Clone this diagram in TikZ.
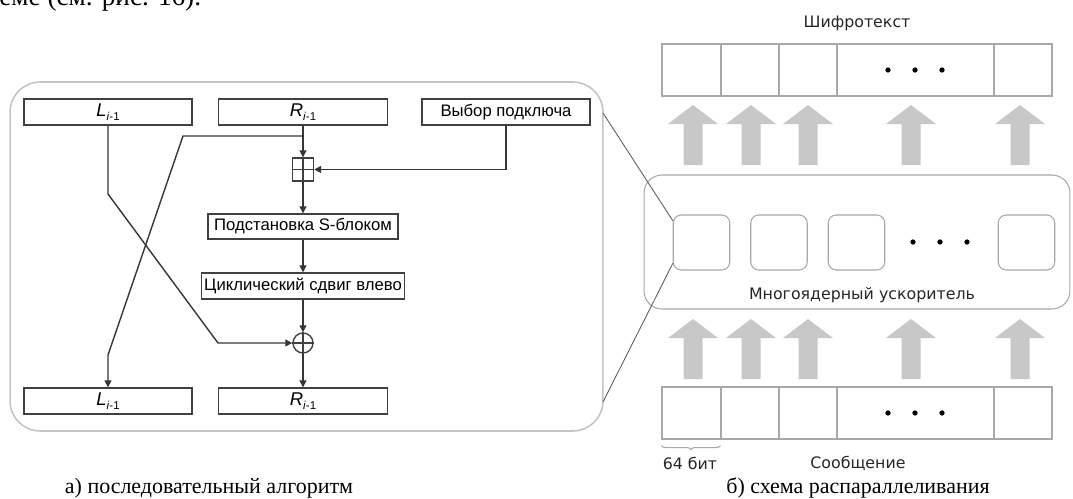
\documentclass[tikz,border=0pt]{standalone}
\usepackage{fontspec}
\setmainfont{Liberation Serif}
\setsansfont{Liberation Sans}
\newfontfamily\dejavu{DejaVu Sans}
\usetikzlibrary{arrows.meta}
\usetikzlibrary{decorations.pathreplacing}
\definecolor{linegray}{HTML}{363636}
\definecolor{boxgray}{HTML}{404040}
\definecolor{framegray}{HTML}{C4C4C4}
\definecolor{cellgray}{HTML}{A8A8A8}
\definecolor{arrowgray}{HTML}{C8C8C8}
\newcommand{\halfname}[1]{{\fontsize{10.5}{12}\selectfont\textit{#1}}\raisebox{-0.4ex}{\fontsize{6.5}{7}\selectfont\textit{i}-1}}
\newcommand{\blockarrow}[2]{\fill[arrowgray] (#1,#2) -- ++(25,19) -- ++(-15.5,0) -- ++(0,41)
  -- ++(-19,0) -- ++(0,-41) -- ++(-15.5,0) -- cycle;}
\tikzset{blk/.style={draw=boxgray, line width=0.8pt, inner sep=0pt,
         minimum height=0.52cm, font=\sffamily\fontsize{9.5}{11}\selectfont},
         flow/.style={draw=linegray, line width=0.8pt, -{Triangle[length=4pt,width=4pt]}},
         cell/.style={draw=cellgray, line width=0.6pt, inner sep=0pt, minimum height=1.04cm},
         core/.style={draw=cellgray, line width=0.6pt, rounded corners=0.16cm,
         minimum width=1.13cm, minimum height=1.1cm},
         txt/.style={font=\dejavu\fontsize{9}{11}\selectfont, text=black!85},
         capt/.style={font=\fontsize{12.5}{15}\selectfont}}

\begin{document}
\begin{tikzpicture}[x=0.02cm, y=-0.02cm]
\useasboundingbox (0,0) rectangle (1073,498);
\clip (0,0) rectangle (1073,498);

\node[font=\fontsize{15.5}{18}\selectfont, anchor=base west, inner sep=0pt] (prev) at (-1,5) {еме (см. рис. 16).};

% a) one round
\node[draw=framegray, line width=0.9pt, rounded corners=0.6cm, minimum width=11.86cm,
      minimum height=6.98cm] (alg) at (306.5,256.5) {};
\node[blk, minimum width=3.36cm] (Lin) at (108,112) {\halfname{L}};
\node[blk, minimum width=3.38cm] (Rin) at (303,112) {\halfname{R}};
\node[blk, minimum width=3.36cm] (key) at (506,112) {Выбор подключа};
\node[blk, minimum width=0.42cm, minimum height=0.46cm] (add) at (303,169.5) {};
\draw[boxgray, line width=0.8pt] (add.north) -- (add.south) (add.west) -- (add.east);
\node[blk, minimum width=3.8cm, minimum height=0.5cm] (sbox) at (303,226.5) {Подстановка S-блоком};
\node[blk, minimum width=4.06cm] (rot) at (303,286) {Циклический сдвиг влево};
\node[blk, circle, minimum size=0.4cm] (xor) at (303,343) {};
\draw[boxgray, line width=0.8pt] (xor.north) -- (xor.south) (xor.west) -- (xor.east);
\node[blk, minimum width=3.36cm] (Lout) at (108,401) {\halfname{L}};
\node[blk, minimum width=3.38cm] (Rout) at (303,401) {\halfname{R}};

\coordinate (split) at (303,136);
\coordinate (c1) at (183,136);
\coordinate (c2) at (108,355);
\coordinate (c3) at (108,194);
\coordinate (c4) at (218,343);

\draw[flow] (Rin.south) -- (add.north);
\draw[flow] (split) -- (c1) -- (c2) -- (Lout.north);
\draw[flow] (Lin.south) -- (c3) -- (c4) -- (xor.west);
\draw[flow] (key.south) |- (add.east);
\draw[flow] (add.south) -- (sbox.north);
\draw[flow] (sbox.south) -- (rot.north);
\draw[flow] (rot.south) -- (xor.north);
\draw[flow] (xor.south) -- (Rout.north);

% b) parallel scheme
\node[txt] (ctitle) at (857,23) {Шифротекст};
\node[cell, minimum width=1.18cm] (ct1) at (691.5,70) {};
\node[cell, minimum width=1.16cm] (ct2) at (750,70) {};
\node[cell, minimum width=1.16cm] (ct3) at (808,70) {};
\node[cell, minimum width=3.14cm] (ct4) at (915.5,70) {};
\node[cell, minimum width=1.16cm] (ct5) at (1023,70) {};
\fill (888,70) circle (1.5pt) (915,70) circle (1.5pt) (942,70) circle (1.5pt);

\blockarrow{693}{105}
\blockarrow{751}{105}
\blockarrow{808}{105}
\blockarrow{911}{105}
\blockarrow{1020}{105}

\node[draw=cellgray, line width=0.6pt, rounded corners=0.36cm, minimum width=8.52cm,
      minimum height=2.68cm] (acc) at (857,242) {};
\node[core] (core1) at (701.5,242.5) {};
\node[core] (core2) at (779,242.5) {};
\node[core] (core3) at (856.5,242.5) {};
\node[core] (core4) at (1026.5,242.5) {};
\fill (913,242) circle (1.5pt) (940,242) circle (1.5pt) (967,242) circle (1.5pt);
\node[txt] (acclbl) at (862,295) {Многоядерный ускоритель};

\blockarrow{693}{319}
\blockarrow{751}{319}
\blockarrow{808}{319}
\blockarrow{911}{319}
\blockarrow{1020}{319}

\node[cell, minimum width=1.18cm] (ms1) at (691.5,413) {};
\node[cell, minimum width=1.16cm] (ms2) at (750,413) {};
\node[cell, minimum width=1.16cm] (ms3) at (808,413) {};
\node[cell, minimum width=3.14cm] (ms4) at (915.5,413) {};
\node[cell, minimum width=1.16cm] (ms5) at (1023,413) {};
\fill (888,413) circle (1.5pt) (915,413) circle (1.5pt) (942,413) circle (1.5pt);
\draw[cellgray, line width=0.6pt, decorate, decoration={brace, mirror, amplitude=2.3pt}]
  (ms1.south west) ++(0,6) -- ++(59,0);
\node[txt] (bits) at (690,463) {64 бит};
\node[txt] (msg) at (858,463) {Сообщение};

% zoom lines
\coordinate (zt) at (603,113);
\coordinate (zb) at (603,402);
\coordinate (ct) at (673,221);
\coordinate (cb) at (673,263);
\draw[linegray!80, line width=0.5pt] (zt) -- (ct) (zb) -- (cb);

\node[capt] (capa) at (209,488) {а) последовательный алгоритм};
\node[capt] (capb) at (858,488) {б) схема распараллеливания};

\end{tikzpicture}
\end{document}
